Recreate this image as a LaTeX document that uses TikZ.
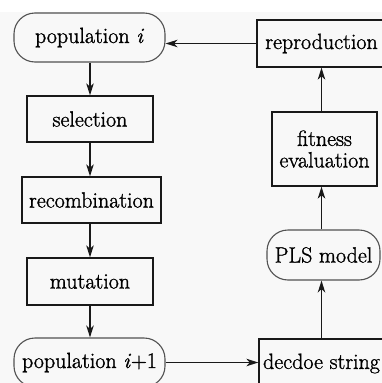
\documentclass[tikz,border=0pt]{standalone}
\usepackage{fontspec}
\setmainfont{Latin Modern Roman}[RawFeature={embolden=1.3}]
\usetikzlibrary{arrows.meta}
\definecolor{bgc}{RGB}{248,248,248}
\definecolor{linec}{RGB}{25,25,25}
\begin{document}
\begin{tikzpicture}[x=1pt,y=-1pt,
  box/.style={draw=linec,line width=1.3pt,rectangle,inner sep=0pt,align=center,
    font=\fontsize{22}{21.5}\selectfont},
  rbox/.style={box,rounded corners=21pt,line width=1.1pt,draw=linec!75},
  arr/.style={draw=linec,line width=1.3pt,-{Stealth[length=12pt,width=7.5pt,inset=3.5pt]}}]
\useasboundingbox (0,0) rectangle (382,383);
\fill[bgc] (0,12) rectangle (382,383);
% left column
\node[rbox,minimum width=151pt,minimum height=49pt] (popi) at (89.5,37.5) {population \textit{i}};
\node[box,minimum width=126pt,minimum height=46pt] (sel) at (90,119) {selection};
\node[box,minimum width=139pt,minimum height=46pt] (rec) at (91.5,200) {recombination};
\node[box,minimum width=126pt,minimum height=47pt] (mut) at (90,281.5) {mutation};
\node[rbox,minimum width=151pt,minimum height=49pt] (popi1) at (89.5,362.5) {population \textit{i}+1};
% right column
\node[box,minimum width=129pt,minimum height=47pt] (repro) at (321.5,43.5) {reproduction};
\node[box,minimum width=105pt,minimum height=74pt] (fit) at (324.5,149) {fitness\\evaluation};
\node[rbox,minimum width=113pt,minimum height=50pt] (pls) at (323.5,255) {PLS model};
\node[box,minimum width=125pt,minimum height=49pt] (dec) at (321.5,363.5) {decdoe string};
% connectors
\draw[arr] (popi.south -| sel.north) -- (sel.north);
\draw[arr] (sel.south) -- (sel.south |- rec.north);
\draw[arr] (sel.south |- rec.south) -- (mut.north);
\draw[arr] (mut.south) -- (mut.south |- popi1.north);
\draw[arr] (popi1.east) -- (dec.west |- popi1.east);
\draw[arr] (dec.north) -- (dec.north |- pls.south);
\draw[arr] (dec.north |- pls.north) -- (dec.north |- fit.south);
\draw[arr] (dec.north |- fit.north) -- (repro.south);
\draw[arr] (repro.west) -- (popi.east |- repro.west);
\end{tikzpicture}
\end{document}
